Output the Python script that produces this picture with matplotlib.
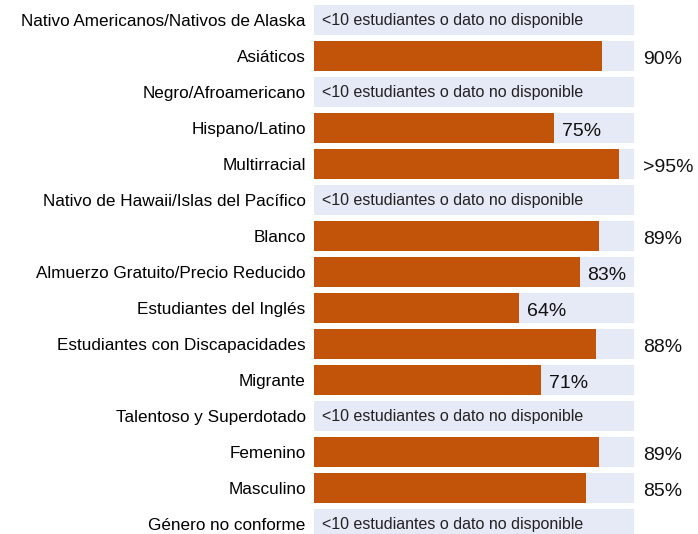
import numpy as np
import matplotlib.pyplot as plt

plt.rcParams['font.family'] = ['Liberation Sans', 'DejaVu Sans']

groups = ['Nativo Americanos/Nativos de Alaska', 'Asiáticos', 'Negro/Afroamericano',
          'Hispano/Latino', 'Multirracial', 'Nativo de Hawaii/Islas del Pacífico',
          'Blanco', 'Almuerzo Gratuito/Precio Reducido', 'Estudiantes del Inglés',
          'Estudiantes con Discapacidades', 'Migrante', 'Talentoso y Superdotado',
          'Femenino', 'Masculino', 'Género no conforme']
# None = menos de 10 estudiantes / sin dato
values = [None, 90, None, 75, 95.3, None, 89, 83, 64, 88, 71, None, 89, 85, None]
labels = ['', '90%', '', '75%', '>95%', '', '89%', '83%', '64%', '88%', '71%', '', '89%', '85%', '']
nodata = '<10 estudiantes o dato no disponible'

orange = '#C2540A'
bg = '#E6E9F6'

fig = plt.figure(figsize=(6.98, 5.34), dpi=100)
ax = fig.add_axes([314 / 698, 0, 320 / 698, 1])

y = np.arange(len(groups))
ax.barh(y, [100] * len(groups), height=0.86, color=bg, left=0)
for i, v in enumerate(values):
    if v is None:
        ax.text(2.5, i, nodata, va='center', ha='left', fontsize=11.5, color='#222222')
        continue
    ax.barh(i, v, height=0.86, color=orange)
    # etiqueta fuera de la barra si no cabe
    xt = 102.8 if v >= 85 else v + 2.5
    ax.text(xt, i + 0.1, labels[i], va='center', ha='left', fontsize=14, color='#111111')

ax.set_xlim(0, 100)
ax.set_ylim((534 - 20) / 36, -20 / 36)
ax.set_yticks(y)
ax.set_yticklabels(groups, fontsize=12.3)
ax.tick_params(axis='y', length=0, pad=6)
ax.set_xticks([])
for s in ax.spines.values():
    s.set_visible(False)

fig.savefig('out.png', dpi=100)
